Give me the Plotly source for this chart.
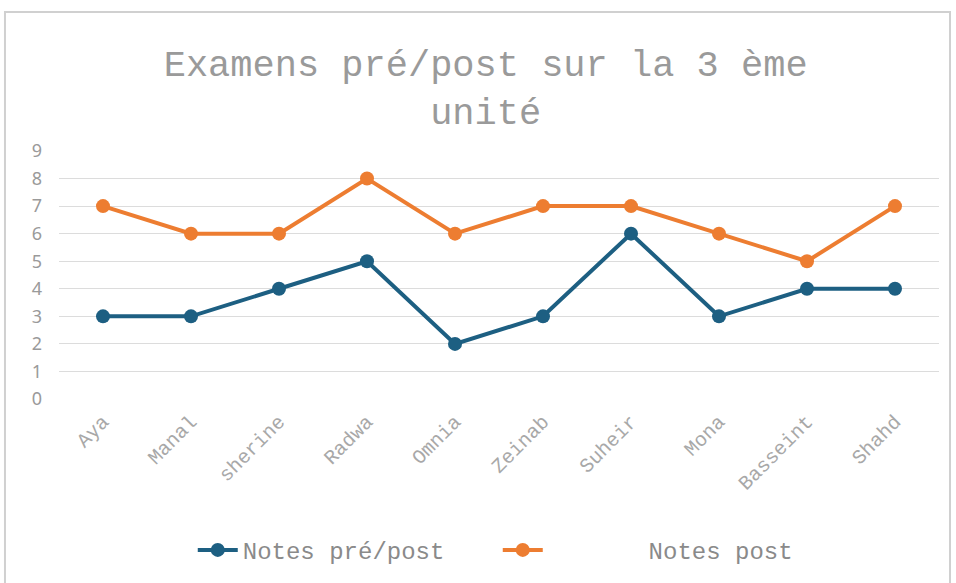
import plotly.graph_objects as go

students = ["Aya", "Manal", "sherine", "Radwa", "Omnia", "Zeinab", "Suheir", "Mona", "Basseint", "Shahd"]
notes_pre = [3, 3, 4, 5, 2, 3, 6, 3, 4, 4]
notes_post = [7, 6, 6, 8, 6, 7, 7, 6, 5, 7]
y_ticks = [0, 1, 2, 3, 4, 5, 6, 7, 8, 9]

BLUE = "#1d5f82"
ORANGE = "#ed7d31"
MONO = "Liberation Mono, Courier New, monospace"

fig = go.Figure()
fig.add_trace(go.Scatter(
    x=students, y=notes_pre, name="Notes pré/post", mode="lines+markers",
    line=dict(color=BLUE, width=4), marker=dict(color=BLUE, size=14),
))
fig.add_trace(go.Scatter(
    x=students, y=notes_post, name="\u00a0" * 7 + "Notes post", mode="lines+markers",
    line=dict(color=ORANGE, width=4), marker=dict(color=ORANGE, size=14),
))

fig.update_layout(
    width=956, height=583,
    margin=dict(l=59, r=17, t=151, b=184, autoexpand=False),
    paper_bgcolor="white", plot_bgcolor="white",
    title=dict(
        text="Examens pré/post sur la 3 ème<br>unité",
        font=dict(family=MONO, size=37, color="#9a9a9a"),
        x=0.508, xanchor="center", y=0.87, yanchor="middle", yref="container",
    ),
    xaxis=dict(
        type="category", range=[-0.5, 9.5], showgrid=False, zeroline=False,
        showline=False, ticks="", tickangle=-45, ticklabelstandoff=6,
        tickfont=dict(family=MONO, size=20, color="#a8a8a8"),
    ),
    yaxis=dict(
        range=[0, 9], tickvals=y_ticks, showgrid=True, gridcolor="#dcdcdc",
        gridwidth=1, zeroline=False, showline=False, ticks="",
        tickfont=dict(family="Noto Sans, Liberation Sans, sans-serif", size=18, color="#9a9a9a"),
        ticklabelstandoff=16,
    ),
    legend=dict(
        orientation="h", x=0.152, xanchor="left", y=-0.61, yanchor="middle",
        font=dict(family=MONO, size=24, color="#8a8a8a"),
        itemwidth=40, tracegroupgap=0, entrywidth=250,
    ),
    showlegend=True,
    shapes=[dict(
        type="rect", xref="paper", yref="paper",
        x0=-0.0614, x1=1.0125, y0=-0.76, y1=1.5605,
        line=dict(color="#d0d0d0", width=2), fillcolor="rgba(0,0,0,0)", layer="below",
    )],
)

fig.write_html("out.html")
